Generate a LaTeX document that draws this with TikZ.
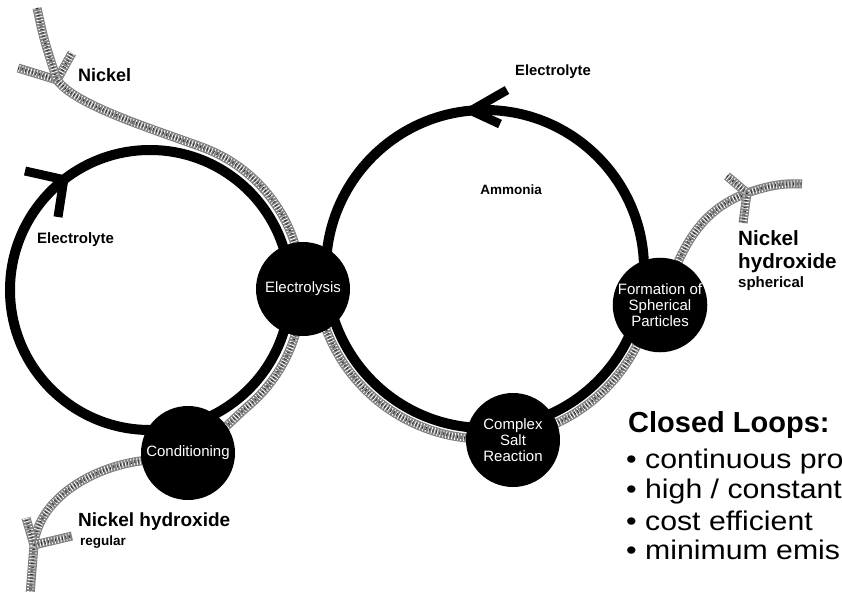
\documentclass[tikz,border=0pt]{standalone}
\usepackage{fontspec}
\setmainfont{Liberation Sans}
\newfontfamily\widesans[FakeStretch=1.12]{Liberation Sans}
\pgfdeclarelayer{background}
\pgfsetlayers{background,main}
\begin{document}
\begin{tikzpicture}[x=1pt,y=-1pt,
  ring/.style={line width=10pt, draw=black},
  barb/.style={line width=9pt, draw=black},
  band/.style={line width=9pt, draw=black!50,
    postaction={draw=white, line width=7pt, dash pattern=on 0.8pt off 2.2pt},
    postaction={draw=black!80, line width=3pt, dash pattern=on 0.9pt off 2.7pt}},
  proc/.style={circle, fill=black, minimum size=94pt, inner sep=0pt, text=white,
    font=\fontsize{15}{16}\selectfont, align=center},
  lbl/.style={inner sep=0pt, anchor=west, align=left},
  bullet/.style={lbl, font=\widesans\fontsize{27}{30}\selectfont},
]
\useasboundingbox (0,0) rectangle (842,591);
% centres of the two loops
\coordinate (CL) at (150,290);
\coordinate (CR) at (485,269);
% process nodes
\node[proc] (elec) at (303,289) {Electrolysis};
\node[proc] (cond) at (188,453) {Conditioning};
\node[proc] (csr) at (513,440) {Complex\\Salt\\Reaction};
\node[proc] (form) at (660,305) {Formation of\\Spherical\\Particles};
% free ends of the streams
\coordinate (nitail) at (37,8);
\coordinate (nitip) at (57,80);
\coordinate (nhrtip) at (34,545);
\coordinate (nhrend) at (30,595);
\coordinate (nhstip) at (747,193);
\coordinate (nhsend) at (802,184);
\coordinate (larr) at ([shift={(-128:140)}]CL);
\coordinate (rarr) at ([shift={(-95:159)}]CR);
\begin{pgfonlayer}{background}
  % black loops
  \draw[ring] (CL) circle[radius=140];
  \draw[ring] (CR) circle[radius=159];
  \draw[barb] (larr) -- (25,171);
  \draw[barb] (larr) -- (58,217);
  \draw[barb] (rarr) -- (507,90);
  \draw[barb] (rarr) -- (500,124);
  % Nickel input stream
  \draw[band] (nitip) -- (18,68);
  \draw[band] (nitip) -- (72,53);
  \draw[band] (nitail) .. controls (44,40) .. (nitip)
     .. controls (75,105) and (150,128) .. ([shift={(-70:152)}]CL)
     arc[start angle=-70, end angle=-12, radius=152];
  % left loop: electrolysis -> conditioning -> nickel hydroxide regular
  \draw[band] ([shift={(12:152)}]CL) arc[start angle=12, end angle=50, radius=152]
     .. controls (232,420) and (215,440) .. (cond.center)
     -- (140,461) .. controls (90,468) and (38,500) .. (nhrtip) -- (nhrend);
  \draw[band] (nhrtip) -- (26,518);
  \draw[band] (nhrtip) -- (72,536);
  % right loop: electrolysis -> complex salt -> formation
  \draw[band] ([shift={(165:170)}]CR) arc[start angle=165, end angle=14, radius=170];
  % nickel hydroxide spherical output
  \draw[band] (form.center) -- (678,262) .. controls (695,225) and (715,205) .. (nhstip)
     .. controls (770,185) and (785,183) .. (nhsend);
  \draw[band] (nhstip) -- (727,176);
  \draw[band] (nhstip) -- (743,223);
\end{pgfonlayer}
% labels
\node[lbl, font=\bfseries\fontsize{18}{20}\selectfont] (lni) at (78,75) {Nickel};
\node[lbl, font=\bfseries\fontsize{15}{16}\selectfont] (lell) at (37,240) {Electrolyte};
\node[lbl, font=\bfseries\fontsize{14.8}{16}\selectfont] (lelt) at (515,72) {Electrolyte};
\node[inner sep=0pt, font=\bfseries\fontsize{13.5}{16}\selectfont] (lam) at (511,190) {Ammonia};
\node[lbl, font=\bfseries\fontsize{20.6}{23}\selectfont] (lnhs) at (738,252) {Nickel\\hydroxide};
\node[lbl, font=\bfseries\fontsize{15}{16}\selectfont] (lsph) at (738,284) {spherical};
\node[lbl, font=\bfseries\fontsize{19}{20}\selectfont] (lnhr) at (78,522) {Nickel hydroxide};
\node[lbl, font=\bfseries\fontsize{13.5}{15}\selectfont] (lreg) at (80,542) {regular};
% closed loops
\node[lbl, font=\bfseries\fontsize{29}{30}\selectfont] (cl) at (628,425) {Closed Loops:};
\node[bullet] (b1) at (626,462) {• continuous pro};
\node[bullet] (b2) at (626,492) {• high / constant};
\node[bullet] (b3) at (626,521) {• cost efficient};
\node[bullet] (b4) at (626,550) {• minimum emis};
\end{tikzpicture}
\end{document}
